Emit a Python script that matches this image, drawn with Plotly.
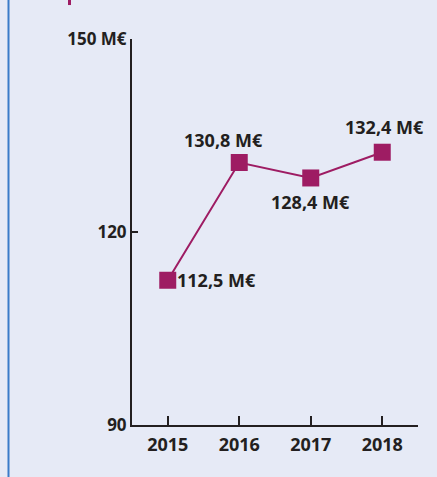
import plotly.graph_objects as go

years = [2015, 2016, 2017, 2018]
values = [112.5, 130.8, 128.4, 132.4]
value_labels = ["112,5 M€", "130,8 M€", "128,4 M€", "132,4 M€"]
y_tick_vals = [90, 120, 150]
y_tick_text = ["90", "120", "150 M€"]
x_tick_text = ["2015", "2016", "2017", "2018"]

# label placement (style, not data)
label_offsets = [(49, 0), (-16, 23), (0, -24), (2, 25)]

MAG = "#9E1C63"
INK = "#231F20"
BG = "#E6EAF6"
FONT = "Open Sans"

fig = go.Figure()
fig.add_trace(go.Scatter(
    x=years, y=values, mode="lines+markers",
    line=dict(color=MAG, width=2),
    marker=dict(symbol="square", size=17, color=MAG),
    hoverinfo="skip", showlegend=False,
))

for x, y, t, (dx, dy) in zip(years, values, value_labels, label_offsets):
    fig.add_annotation(x=x, y=y, text=f"<b>{t}</b>", showarrow=False,
                       xshift=dx, yshift=dy,
                       font=dict(family=FONT, size=18, color=INK))

fig.update_layout(
    width=437, height=477,
    margin=dict(l=132, r=19, t=39, b=52),
    paper_bgcolor=BG, plot_bgcolor=BG,
    font=dict(family=FONT, color=INK),
    xaxis=dict(range=[2014.5, 2018.5], tickvals=years,
               ticktext=[f"<b>{t}</b>" for t in x_tick_text],
               showgrid=False, zeroline=False, showline=True,
               linecolor=INK, linewidth=2, ticks="inside", ticklen=9,
               tickwidth=1.5, tickcolor=INK, ticklabelstandoff=2,
               tickfont=dict(family=FONT, size=18, color=INK)),
    yaxis=dict(range=[90, 150], tickvals=y_tick_vals,
               ticktext=[f"<b>{t}</b>" for t in y_tick_text],
               showgrid=False, zeroline=False, showline=True,
               linecolor=INK, linewidth=2, ticks="inside", ticklen=6,
               tickwidth=1.5, tickcolor=INK,
               tickfont=dict(family=FONT, size=17, color=INK)),
    shapes=[
        dict(type="line", xref="paper", yref="paper", x0=-0.4318, x1=-0.4318,
             y0=-0.2, y1=1.2, line=dict(color="#3A7BC8", width=2)),
        dict(type="rect", xref="paper", yref="paper", x0=-0.2238, x1=-0.2133,
             y0=1.088, y1=1.11, line=dict(width=0), fillcolor=MAG),
    ],
)

fig.write_html(
    "out.html",
    config={"displayModeBar": False},
    post_script="document.body.style.margin='0';document.body.style.background='#E6EAF6';",
)
